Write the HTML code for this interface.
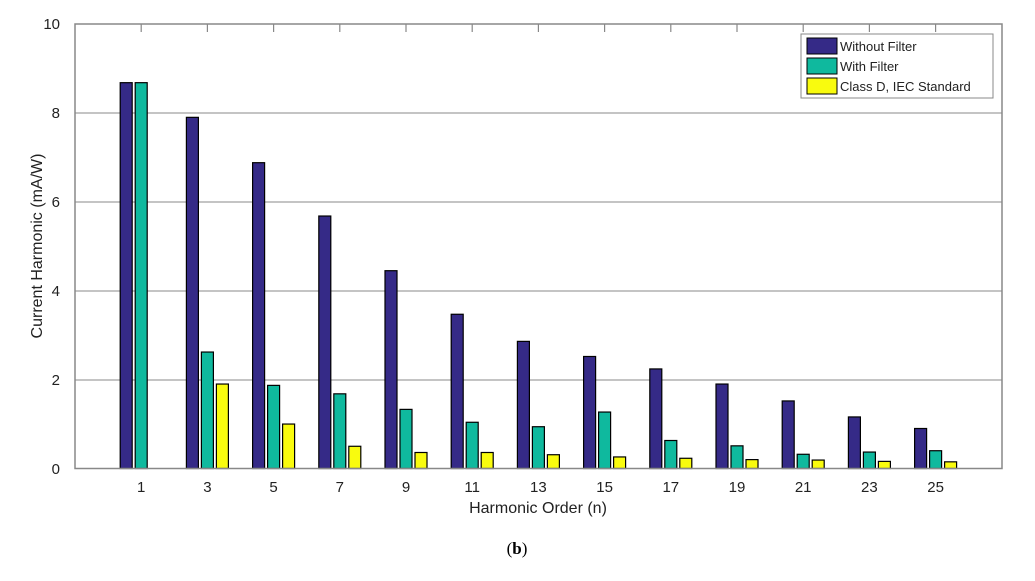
<!DOCTYPE html>
<html><head><style>body{margin:0;background:#fff}</style></head><body>
<svg width="1035" height="576" xmlns="http://www.w3.org/2000/svg" font-family="Liberation Sans, sans-serif">
<rect width="1035" height="576" fill="#fff"/>
<g stroke="#888" stroke-width="1">
<line x1="75" y1="113" x2="1002" y2="113"/>
<line x1="75" y1="202" x2="1002" y2="202"/>
<line x1="75" y1="291" x2="1002" y2="291"/>
<line x1="75" y1="380" x2="1002" y2="380"/>
</g>
<g id="bars" stroke="#000" stroke-width="1.2"></g>
<rect x="75" y="24" width="927" height="444.5" fill="none" stroke="#888" stroke-width="1.5"/>
<g id="ticks" stroke="#888" stroke-width="1.2"></g>
<g font-size="15" fill="#222" text-anchor="end">
<text x="60" y="29">10</text><text x="60" y="118">8</text><text x="60" y="207">6</text><text x="60" y="296">4</text><text x="60" y="385">2</text><text x="60" y="474">0</text>
</g>
<g id="xl" font-size="15" fill="#222" text-anchor="middle"></g>
<text x="0" y="0" font-size="16" fill="#222" text-anchor="middle" transform="translate(42,246) rotate(-90)">Current Harmonic (mA/W)</text>
<text x="538" y="513" font-size="16" fill="#222" text-anchor="middle">Harmonic Order (n)</text>
<text x="517" y="554" font-size="17" fill="#000" text-anchor="middle" font-family="Liberation Serif, serif">(<tspan font-weight="bold">b</tspan>)</text>
<rect x="801" y="34" width="192" height="64" fill="#fff" stroke="#888" stroke-width="1"/>
<rect x="807" y="38" width="30" height="16" fill="#352a87" stroke="#000"/>
<rect x="807" y="58" width="30" height="16" fill="#0fb99e" stroke="#000"/>
<rect x="807" y="78" width="30" height="16" fill="#f9fb0e" stroke="#000"/>
<g font-size="13" fill="#222"><text x="840" y="51">Without Filter</text><text x="840" y="71">With Filter</text><text x="840" y="91">Class D, IEC Standard</text></g>
<script>
var p=[8.68,7.9,6.88,5.68,4.45,3.47,2.86,2.52,2.24,1.9,1.52,1.16,0.9];
var t=[8.68,2.62,1.87,1.68,1.33,1.04,0.94,1.27,0.63,0.51,0.32,0.37,0.4];
var y=[0,1.9,1.0,0.5,0.36,0.36,0.31,0.26,0.23,0.2,0.19,0.16,0.15];
var b=document.getElementById('bars'),tk=document.getElementById('ticks'),xl=document.getElementById('xl'),ns='http://www.w3.org/2000/svg';
function r(x,v,c){if(v<=0)return;var e=document.createElementNS(ns,'rect');var h=v*44.45;e.setAttribute('x',x);e.setAttribute('y',468.5-h);e.setAttribute('width',12);e.setAttribute('height',h);e.setAttribute('fill',c);b.appendChild(e);}
for(var i=0;i<13;i++){var c=75+66.2*(i+1);r(c-21,p[i],'#352a87');r(c-6,t[i],'#0fb99e');r(c+9,y[i],'#f9fb0e');
var l=document.createElementNS(ns,'line');l.setAttribute('x1',c);l.setAttribute('x2',c);l.setAttribute('y1',24);l.setAttribute('y2',32);tk.appendChild(l);
var tx=document.createElementNS(ns,'text');tx.setAttribute('x',c);tx.setAttribute('y',492);tx.textContent=(2*i+1);xl.appendChild(tx);}
</script>
</svg>
</body></html>
